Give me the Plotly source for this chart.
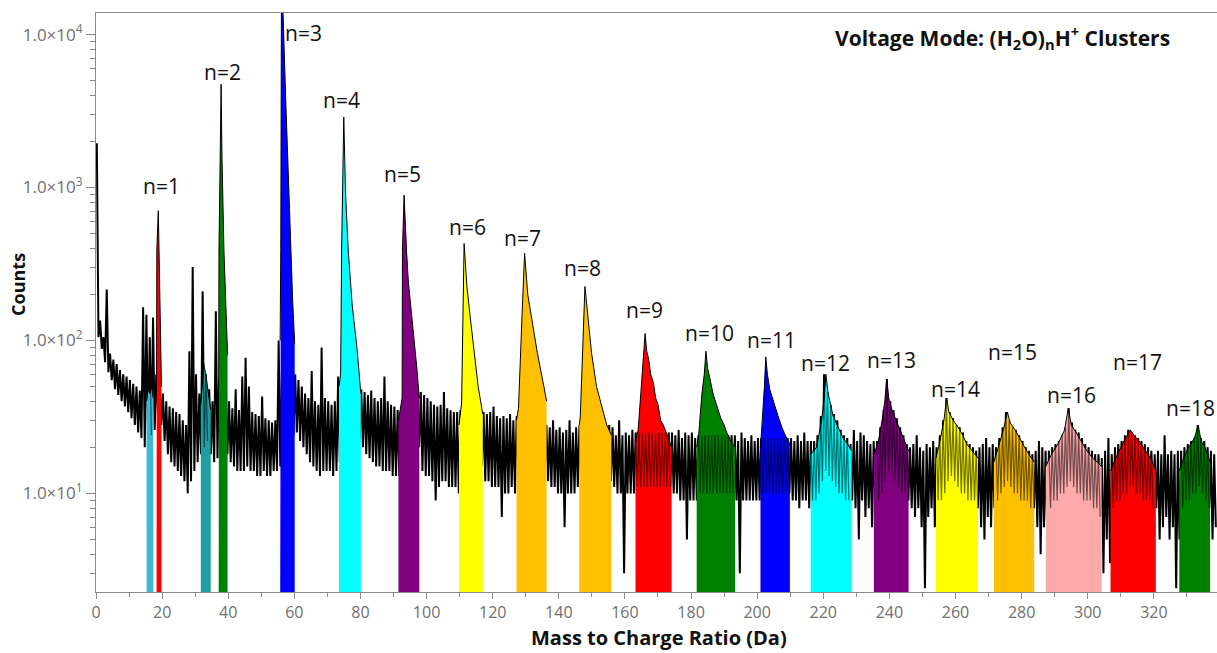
import plotly.graph_objects as go

# ---------------- data ----------------
# black trace: per 1-Da bin, max and min of the recorded counts
mz_bins = list(range(0, 339))
trace_hi = [
    1950, 135, 105, 215, 82, 75, 70, 64, 60, 58,
    55, 52, 50, 47, 165, 147, 105, 141, 60, 55,
    45, 40, 37, 36, 34, 33, 30, 28, 85, 302,
    60, 45, 209, 60, 48, 40, 155, 60, 55, 50,
    40, 36, 48, 35, 58, 77, 50, 34, 33, 32,
    43, 31, 30, 29, 30, 100, 60, 55, 50, 48,
    60, 55, 50, 45, 42, 63, 40, 38, 90, 42,
    40, 38, 40, 58, 50, 50, 50, 50, 50, 50,
    48, 46, 44, 47, 42, 40, 42, 58, 40, 38,
    37, 35, 35, 40, 40, 40, 40, 40, 46, 44,
    42, 40, 38, 37, 38, 46, 36, 35, 34, 34,
    35, 35, 35, 35, 35, 35, 35, 34, 33, 34,
    37, 32, 31, 32, 31, 33, 30, 32, 32, 32,
    32, 32, 32, 32, 32, 32, 28, 27, 30, 26,
    27, 25, 26, 30, 25, 27, 28, 28, 28, 28,
    28, 28, 28, 28, 28, 28, 27, 24, 30, 24,
    25, 24, 26, 25, 25, 25, 25, 25, 25, 25,
    25, 25, 25, 25, 25, 24, 26, 23, 25, 24,
    25, 23, 24, 24, 24, 24, 24, 24, 24, 24,
    24, 24, 24, 24, 22, 25, 23, 22, 24, 22,
    23, 23, 23, 23, 23, 23, 23, 23, 23, 23,
    23, 22, 24, 22, 25, 22, 22, 22, 24, 32,
    60, 46, 38, 33, 30, 26, 24, 23, 21, 26,
    22, 25, 24, 22, 21, 22, 22, 27, 35, 56,
    40, 35, 31, 27, 24, 21, 20, 21, 24, 20,
    19, 21, 20, 22, 20, 24, 30, 42, 34, 31,
    28, 27, 25, 22, 21, 20, 19, 20, 21, 23,
    20, 21, 20, 23, 27, 34, 30, 27, 26, 24,
    22, 20, 19, 18, 19, 22, 20, 19, 19, 20,
    21, 22, 24, 27, 36, 29, 26, 25, 23, 21,
    20, 19, 18, 18, 17, 19, 23, 18, 20, 21,
    22, 24, 26, 25, 24, 23, 22, 21, 20, 19,
    18, 19, 18, 24, 18, 19, 18, 19, 19, 20,
    21, 22, 23, 28, 23, 22, 20, 19, 18,
]
trace_lo = [
    105, 88, 72, 62, 55, 48, 44, 40, 37, 34,
    31, 28, 25, 23, 20, 22, 24, 26, 35, 28,
    22, 18, 16, 15, 14, 13, 12, 10, 12, 14,
    16, 18, 20, 22, 18, 16, 17, 20, 20, 18,
    16, 15, 14, 14, 14, 15, 14, 14, 13, 13,
    14, 13, 13, 14, 14, 15, 30, 28, 26, 24,
    25, 22, 20, 18, 16, 15, 14, 13, 14, 14,
    14, 13, 14, 16, 25, 25, 25, 25, 25, 22,
    20, 18, 17, 16, 15, 15, 14, 14, 14, 13,
    13, 13, 14, 20, 20, 20, 20, 20, 14, 13,
    13, 12, 9, 11, 12, 12, 11, 11, 11, 10,
    15, 15, 15, 15, 15, 15, 15, 12, 12, 11,
    11, 11, 7, 10, 10, 11, 10, 14, 14, 14,
    14, 14, 14, 14, 14, 14, 12, 11, 11, 10,
    10, 6, 10, 10, 10, 11, 12, 12, 12, 12,
    12, 12, 12, 12, 12, 12, 11, 10, 10, 3,
    10, 10, 10, 11, 11, 11, 11, 11, 11, 11,
    11, 11, 11, 11, 10, 10, 9, 9, 5, 9,
    9, 9, 10, 10, 10, 10, 10, 10, 10, 10,
    10, 10, 10, 9, 3, 9, 9, 9, 9, 9,
    9, 10, 10, 10, 10, 10, 10, 10, 10, 10,
    9, 9, 8, 9, 9, 8, 9, 9, 10, 12,
    14, 13, 12, 11, 10, 10, 9, 9, 9, 8,
    5, 9, 7, 8, 6, 9, 9, 10, 12, 14,
    13, 12, 11, 10, 10, 9, 8, 7, 8, 6,
    2.4, 7, 8, 6, 9, 9, 10, 12, 13, 12,
    11, 10, 10, 9, 9, 9, 8, 6, 5, 7,
    6, 8, 9, 10, 11, 12, 11, 10, 10, 9,
    9, 9, 8, 8, 6, 4, 6, 5, 8, 9,
    9, 10, 10, 11, 12, 11, 10, 10, 9, 9,
    9, 8, 8, 7, 3, 5, 3.5, 8, 9, 9,
    10, 10, 11, 11, 10, 10, 9, 9, 9, 8,
    8, 5, 6, 7, 5, 6, 2.4, 5, 8, 9,
    9, 10, 10, 11, 10, 9, 8, 5, 6,
]

# coloured peak profiles (m/z, counts)
profile_mz = [
    [15.3, 15.8, 16.3, 16.8, 17.3],
    [18.3, 18.4, 18.85, 19.1, 19.4, 19.8],
    [31.7, 32.3, 32.6, 33.2, 34.0, 34.7],
    [37.1, 37.2, 37.85, 38.1, 38.7, 39.2, 39.8],
    [55.7, 55.9, 56.1, 56.35, 57.4, 58.9, 59.5, 60.1],
    [73.5, 74.0, 74.3, 74.95, 75.5, 76.3, 77.5, 79.0, 80.1],
    [91.5, 92.6, 92.7, 93.2, 93.9, 94.5, 97.0, 97.8],
    [109.8, 110.6, 111.35, 112.2, 113.3, 115.6, 117.0],
    [127.2, 127.8, 128.9, 129.65, 130.6, 131.8, 133.5, 135.8, 136.3],
    [146.2, 146.5, 147.9, 148.9, 149.9, 151.4, 154.5, 155.9],
    [163.2, 164.0, 164.8, 165.5, 166.1, 166.6, 167.2, 167.8, 168.6, 169.3, 170.0, 170.8, 171.6, 172.5, 173.3, 174.1],
    [181.7, 182.3, 183.3, 184.0, 184.5, 185.0, 185.8, 186.5, 187.2, 188.0, 189.0, 190.0, 190.8, 192.0, 193.3],
    [201.0, 201.6, 202.2, 202.6, 203.1, 203.8, 204.6, 205.4, 206.5, 207.5, 208.5, 209.9],
    [216.2, 218.0, 219.5, 220.3, 220.8, 221.4, 222.2, 223.0, 224.5, 226.0, 227.0, 228.6],
    [235.3, 236.5, 237.8, 238.6, 239.2, 239.8, 240.8, 242.0, 243.2, 244.5, 245.8],
    [254.1, 255.3, 256.5, 257.3, 258.0, 259.3, 260.8, 262.2, 263.4, 265.0, 266.8],
    [271.6, 273.0, 274.5, 275.7, 276.5, 278.0, 279.8, 281.5, 283.8],
    [287.3, 289.0, 291.0, 293.0, 294.1, 295.0, 296.5, 298.0, 299.7, 301.5, 304.2],
    [306.9, 308.5, 310.5, 312.0, 312.8, 314.0, 315.5, 317.5, 319.0, 320.6],
    [327.7, 329.0, 330.5, 332.3, 333.4, 334.3, 335.5, 337.0],
]
profile_counts = [
    [40, 48, 45, 50, 42],
    [45, 390, 705, 390, 130, 50],
    [38, 55, 70, 60, 45, 35],
    [60, 390, 4730, 1600, 390, 160, 80],
    [100, 400, 20000, 20000, 3700, 390, 180, 95],
    [50, 60, 390, 2890, 900, 390, 170, 87, 45],
    [30, 42, 390, 892, 390, 240, 68, 42],
    [28, 39, 430, 225, 136, 50, 33],
    [30, 36, 150, 371, 200, 136, 83, 46, 40],
    [28, 32, 225, 130, 83, 50, 28, 24],
    [22, 26, 45, 70, 111, 85, 75, 60, 53, 42, 38, 30, 28, 25, 22, 20],
    [20, 24, 45, 60, 85, 66, 55, 46, 41, 36, 31, 28, 25, 22, 20],
    [20, 30, 50, 78, 60, 48, 42, 37, 31, 27, 24, 21],
    [18, 20, 30, 42, 60, 46, 38, 32, 27, 23, 21.5, 19],
    [18, 21, 30, 40, 56, 42, 35, 30, 26, 22, 19],
    [17, 22, 30, 42, 34, 30, 27, 24, 21, 19, 17],
    [16, 20, 26, 34, 29, 26, 22, 19, 16],
    [15, 18, 21, 26, 36, 28, 25, 22, 19, 17, 15],
    [14, 17, 21, 24, 26, 24, 22, 19, 17, 14],
    [14, 17, 20, 23, 28, 22, 20, 16],
]
peak_colors = [
    "#3ab8d8", "#ff0000", "#1e9e9e", "#008000", "#0000ff", "#00ffff",
    "#800080", "#ffff00", "#ffc000", "#ffc000", "#ff0000", "#008000",
    "#0000ff", "#00ffff", "#800080", "#ffff00", "#ffc000", "#ffaaaa",
    "#ff0000", "#008000",
]

# cluster labels
label_text = ["n=%d" % k for k in range(1, 19)]
label_mz = [19.96, 38.2, 62.7, 74.4, 92.6, 112.5, 129.0, 147.3, 166.0,
            185.7, 204.2, 220.6, 240.5, 260.0, 277.2, 295.1, 315.0, 331.0]
label_log = [3.013, 3.756, 4.010, 3.570, 3.089, 2.741, 2.669, 2.473, 2.199,
             2.048, 2.002, 1.852, 1.871, 1.682, 1.925, 1.643, 1.860, 1.561]

y_tick_vals = [10, 100, 1000, 10000]
y_tick_text = ["1.0×10<sup>1</sup>", "1.0×10<sup>2</sup>", "1.0×10<sup>3</sup>", "1.0×10<sup>4</sup>"]
x_tick_vals = list(range(0, 321, 20))

# ---------------- figure ----------------
FONT = "Open Sans"
fig = go.Figure()

# black trace: min/max per bin
zx, zy = [], []
for m, h, l in zip(mz_bins, trace_hi, trace_lo):
    zx += [m + 0.25, m + 0.75]
    zy += [h, l]
fig.add_trace(go.Scatter(x=zx, y=zy, mode="lines",
                         line=dict(color="black", width=2), hoverinfo="skip"))

FLOOR = 1.0
for mzs, cts, col in zip(profile_mz, profile_counts, peak_colors):
    xs = [mzs[0]] + mzs + [mzs[-1], mzs[0]]
    ys = [FLOOR] + cts + [FLOOR, FLOOR]
    fig.add_trace(go.Scatter(x=xs, y=ys, mode="lines", fill="toself",
                             fillcolor=col, line=dict(width=0, color=col),
                             hoverinfo="skip"))
    # noisy overlay for the weaker peaks
    if max(cts) < 120:
        ox, oy = [], []
        for m, h, l in zip(mz_bins, trace_hi, trace_lo):
            if mzs[0] <= m + 0.25 and m + 0.75 <= mzs[-1]:
                ox += [m + 0.25, m + 0.75]
                oy += [h, l]
        fig.add_trace(go.Scatter(x=ox, y=oy, mode="lines",
                                 line=dict(color="black", width=1.2),
                                 opacity=0.55, hoverinfo="skip"))
    fig.add_trace(go.Scatter(x=mzs, y=cts, mode="lines",
                             line=dict(color="black", width=1),
                             hoverinfo="skip"))

for t, xm, yl in zip(label_text, label_mz, label_log):
    fig.add_annotation(x=xm, y=yl, xref="x", yref="y", text=t, showarrow=False,
                       font=dict(family=FONT, size=21, color="#111111"),
                       xanchor="center", yanchor="middle")

fig.add_annotation(x=0.809, y=0.9585, xref="paper", yref="paper",
                   text="<b>Voltage Mode: (H<sub>2</sub>O)<sub>n</sub>H<sup>+</sup> Clusters</b>",
                   showarrow=False, font=dict(family=FONT, size=21, color="#111111"),
                   xanchor="center", yanchor="middle")
fig.add_annotation(x=0.502, y=-0.0794, xref="paper", yref="paper",
                   text="<b>Mass to Charge Ratio (Da)</b>", showarrow=False,
                   font=dict(family=FONT, size=20, color="#111111"),
                   xanchor="center", yanchor="middle")
fig.add_annotation(x=-0.0696, y=0.532, xref="paper", yref="paper",
                   text="<b>Counts</b>", showarrow=False, textangle=-90,
                   font=dict(family=FONT, size=18, color="#111111"),
                   xanchor="center", yanchor="middle")

minor_y = [k * 10 ** d for d in range(0, 5) for k in range(2, 10)]

fig.update_layout(
    width=1217, height=653,
    margin=dict(l=96, r=0, t=13, b=61, autoexpand=False),
    paper_bgcolor="white", plot_bgcolor="white",
    showlegend=False,
    font=dict(family=FONT),
)
fig.update_xaxes(
    range=[0, 339.1], showgrid=False, zeroline=False, automargin=False,
    showline=True, linecolor="#8a8a8a", linewidth=1, mirror=True,
    tickvals=x_tick_vals, ticks="outside", ticklen=6, tickcolor="#8a8a8a",
    tickfont=dict(family=FONT, size=16, color="#707070"),
    minor=dict(dtick=10, tick0=0, ticks="outside", ticklen=4, tickcolor="#8a8a8a"),
)
fig.update_yaxes(
    type="log", range=[0.355, 4.141], showgrid=False, zeroline=False, automargin=False,
    showline=True, linecolor="#8a8a8a", linewidth=1,
    tickvals=y_tick_vals, ticktext=y_tick_text, ticks="outside", ticklen=9,
    tickcolor="#8a8a8a",
    tickfont=dict(family=FONT, size=17, color="#707070"),
    minor=dict(tickvals=minor_y, ticks="outside", ticklen=5, tickcolor="#8a8a8a"),
)

# remove the default 8 px page margin so the 1217x653 figure fills the window exactly
fig.write_html(
    "out.html",
    config={"displayModeBar": False},
    post_script="document.body.style.margin='0px';document.body.style.overflow='hidden';",
)
